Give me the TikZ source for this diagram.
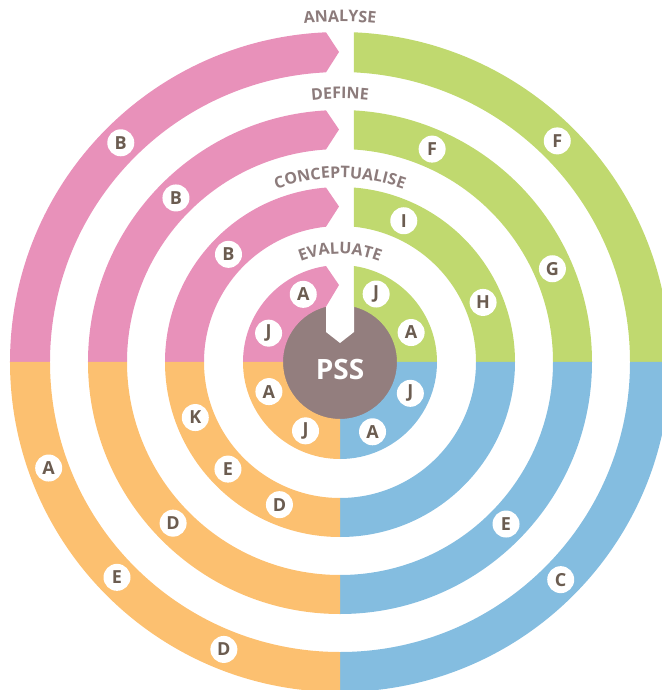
\documentclass[tikz,border=0pt]{standalone}
\usepackage{fontspec}
\setsansfont{Open Sans}
\usetikzlibrary{decorations.text}
\definecolor{pinkc}{HTML}{E891BA}
\definecolor{greenc}{HTML}{C0D96F}
\definecolor{orangec}{HTML}{FCC070}
\definecolor{bluec}{HTML}{84BDE0}
\definecolor{pssc}{HTML}{937E7E}
\definecolor{letterc}{HTML}{6B5C50}
\definecolor{headc}{HTML}{8C7B7B}

\begin{document}
\begin{tikzpicture}[x=1pt,y=1pt,
  lbl/.style={circle,fill=white,minimum size=27pt,inner sep=0pt,text=letterc,
    font=\sffamily\bfseries\fontsize{18}{18}\selectfont},
  head/.style={decorate,decoration={text along path,text align=center,
    text={|\sffamily\bfseries\fontsize{16}{16}\selectfont\color{headc}|#1}}}]
\useasboundingbox (-340,-328) rectangle (321,362);
\fill[pssc] (0,0) circle (57.5pt);
\fill[white] (-14,58) -- (-14,30) -- (0,19) -- (14,30) -- (14,58) -- cycle;
\foreach \rin/\rout in {290/330,213/252,136/175,57/97}{
  \pgfmathsetmacro\rmid{(\rin+\rout)/2}
  \pgfmathsetmacro\ao{acos(-14/\rout)}
  \pgfmathsetmacro\ai{acos(-14/\rin)}
  \pgfmathsetmacro\bo{acos(14/\rout)}
  \pgfmathsetmacro\bi{acos(14/\rin)}
  \fill[pinkc] (180:\rout pt) arc[start angle=180,end angle=\ao,radius=\rout pt]
    -- (-1,\rmid) -- (\ai:\rin pt) arc[start angle=\ai,end angle=180,radius=\rin pt] -- cycle;
  \fill[greenc] (\bo:\rout pt) arc[start angle=\bo,end angle=0,radius=\rout pt]
    -- (0:\rin pt) arc[start angle=0,end angle=\bi,radius=\rin pt] -- cycle;
  \fill[bluec] (0:\rout pt) arc[start angle=0,end angle=-90,radius=\rout pt]
    -- (-90:\rin pt) arc[start angle=-90,end angle=0,radius=\rin pt] -- cycle;
  \fill[orangec] (-90:\rout pt) arc[start angle=-90,end angle=-180,radius=\rout pt]
    -- (180:\rin pt) arc[start angle=180,end angle=270,radius=\rin pt] -- cycle;
}
\node[anchor=base,text=white,font=\sffamily\bfseries\fontsize{28}{28}\selectfont] (pss) at (0,-18) {PSS};
\path[head=ANALYSE] (160:340pt) arc[start angle=160,end angle=20,radius=340pt];
\path[head=DEFINE] (160:263pt) arc[start angle=160,end angle=20,radius=263pt];
\path[head=CONCEPTUALISE] (160:184pt) arc[start angle=160,end angle=20,radius=184pt];
\path[head=EVALUATE] (160:108pt) arc[start angle=160,end angle=20,radius=108pt];
\node[lbl] (oB) at (135:310pt) {B};
\node[lbl] (oF) at (45.5:310pt) {F};
\node[lbl] (oA) at (200:310pt) {A};
\node[lbl] (oE) at (224:310pt) {E};
\node[lbl] (oD) at (248:310pt) {D};
\node[lbl] (oC) at (-44.6:310pt) {C};
\node[lbl] (dB) at (135:232pt) {B};
\node[lbl] (dF) at (66.6:232pt) {F};
\node[lbl] (dG) at (23.7:232pt) {G};
\node[lbl] (dD) at (224:232pt) {D};
\node[lbl] (dE) at (-44.3:232pt) {E};
\node[lbl] (cB) at (136:155pt) {B};
\node[lbl] (cI) at (65.7:155pt) {I};
\node[lbl] (cH) at (22.6:155pt) {H};
\node[lbl] (cK) at (201:155pt) {K};
\node[lbl] (cE) at (223.7:155pt) {E};
\node[lbl] (cD) at (247:155pt) {D};
\node[lbl] (eA1) at (118.5:77pt) {A};
\node[lbl] (eJ1) at (158:77pt) {J};
\node[lbl] (eJ2) at (62:77pt) {J};
\node[lbl] (eA2) at (22.5:77pt) {A};
\node[lbl] (eJ3) at (-24:77pt) {J};
\node[lbl] (eA3) at (-65:77pt) {A};
\node[lbl] (eA4) at (202.6:77pt) {A};
\node[lbl] (eJ4) at (243.4:77pt) {J};
\end{tikzpicture}
\end{document}
